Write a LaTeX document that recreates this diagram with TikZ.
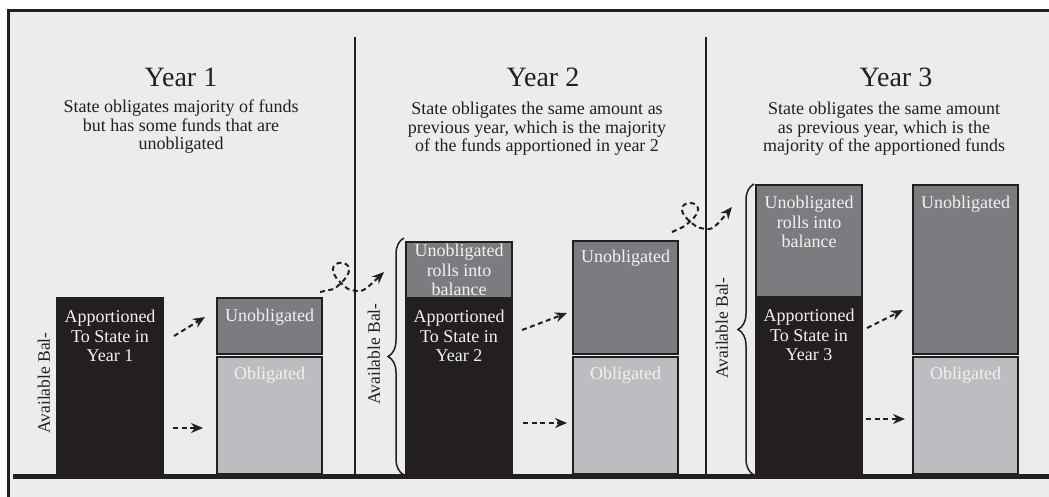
\documentclass[tikz,border=0pt]{standalone}
\usepackage{fontspec}
\setmainfont{Liberation Serif}
\usetikzlibrary{arrows.meta,positioning,decorations.pathreplacing}

\definecolor{panelbg}{HTML}{ECECEC}
\definecolor{inkblack}{HTML}{231F20}
\definecolor{darkfund}{HTML}{7B7C7F}
\definecolor{lightfund}{HTML}{BCBDC0}
\definecolor{fundwhite}{HTML}{F2F2F2}

\tikzset{
  fund/.style={rectangle,inner sep=0pt,outer sep=0pt,line width=2pt,draw=inkblack},
  appbox/.style={fund,fill=inkblack,minimum width=106pt},
  rollbox/.style={fund,fill=darkfund,minimum width=106pt},
  unobbox/.style={fund,fill=darkfund,minimum width=105pt},
  obbox/.style={fund,fill=lightfund,minimum width=105pt},
  fundtext/.style={anchor=north,text=fundwhite,align=center,inner sep=0pt,font=\fontsize{18}{19.5}\selectfont},
  yeartitle/.style={anchor=base,text=inkblack,font=\fontsize{28}{30}\selectfont},
  yearnote/.style={align=center,inner sep=0pt,text=inkblack,font=\fontsize{18}{18.5}\selectfont},
  availlabel/.style={rotate=90,inner sep=0pt,text=inkblack,font=\fontsize{17.5}{19}\selectfont},
  flow/.style={-{Stealth[length=12pt,width=10pt]},line width=2pt,dash pattern=on 5pt off 3.5pt,draw=inkblack},
  balbrace/.style={decorate,decoration={brace,amplitude=16pt},line width=1.5pt,draw=inkblack},
}

\begin{document}
\begin{tikzpicture}[x=1pt,y=-1pt]
\useasboundingbox (0,0) rectangle (1049,497);
\fill[panelbg] (8,10) rectangle (1049,497);
\draw[inkblack,line width=3pt] (8.5,497) -- (8.5,10.8) -- (1049,10.8);

% year columns
\draw[inkblack,line width=2pt] (355,37) -- (355,474);
\draw[inkblack,line width=2pt] (706,37) -- (706,474);

\node[yeartitle]	(t1)	at (181,87)	{Year 1};
\node[yeartitle]	(t2)	at (543,87)	{Year 2};
\node[yeartitle]	(t3)	at (896,87)	{Year 3};
\node[yearnote]	(n1)	[below=13pt of t1.base]	{State obligates majority of funds\\but has some funds that are\\unobligated};
\node[yearnote]	(n2)	[below=15pt of t2.base,xshift=-6pt]	{State obligates the same amount as\\previous year, which is the majority\\of the funds apportioned in year 2};
\node[yearnote]	(n3)	[below=15pt of t3.base,xshift=-12pt]	{State obligates the same amount\\as previous year, which is the\\majority of the apportioned funds};

% year 1
\node[appbox,minimum height=176pt,anchor=south west]	(app1)	at (57,474)	{};
\node[obbox,minimum height=117pt,anchor=south west]	(ob1)	at (217,474)	{};
\node[unobbox,minimum height=56pt]	(unob1)	[above=3pt of ob1]	{};
\node[fundtext]	(app1txt)	[below=12pt of app1.north]	{Apportioned\\To State in\\Year 1};
\node[fundtext]	(unob1txt)	[below=11pt of unob1.north]	{Unobligated};
\node[fundtext]	(ob1txt)	[below=10pt of ob1.north]	{Obligated};
\node[availlabel]	(av1)	at (44,383)	{Available Bal-};

% year 2
\node[appbox,minimum height=176pt,anchor=south west]	(app2)	at (406,474)	{};
\node[rollbox,minimum height=56pt]	(roll2)	[above=0pt of app2]	{};
\node[obbox,minimum height=117pt,anchor=south west]	(ob2)	at (573,474)	{};
\node[unobbox,minimum height=113pt]	(unob2)	[above=3pt of ob2]	{};
\node[fundtext]	(roll2txt)	[below=2pt of roll2.north]	{Unobligated\\rolls into\\balance};
\node[fundtext]	(app2txt)	[below=12pt of app2.north]	{Apportioned\\To State in\\Year 2};
\node[fundtext]	(unob2txt)	[below=9pt of unob2.north]	{Unobligated};
\node[fundtext]	(ob2txt)	[below=10pt of ob2.north]	{Obligated};
\draw[balbrace] ([xshift=-2pt,yshift=-1pt]app2.south west) -- ([xshift=-2pt,yshift=4pt]roll2.north west);
\node[availlabel]	(av2)	at (374,354)	{Available Bal-};

% year 3
\node[appbox,minimum height=177pt,anchor=south west]	(app3)	at (756,474)	{};
\node[rollbox,minimum height=112pt]	(roll3)	[above=0pt of app3]	{};
\node[obbox,minimum height=117pt,anchor=south west]	(ob3)	at (913,474)	{};
\node[unobbox,minimum height=169pt]	(unob3)	[above=3pt of ob3]	{};
\node[fundtext]	(roll3txt)	[below=11pt of roll3.north]	{Unobligated\\rolls into\\balance};
\node[fundtext]	(app3txt)	[below=12pt of app3.north]	{Apportioned\\To State in\\Year 3};
\node[fundtext]	(unob3txt)	[below=11pt of unob3.north]	{Unobligated};
\node[fundtext]	(ob3txt)	[below=10pt of ob3.north]	{Obligated};
\draw[balbrace] ([xshift=-2pt,yshift=-1pt]app3.south west) -- ([xshift=-2pt,yshift=1pt]roll3.north west);
\node[availlabel]	(av3)	at (722,328)	{Available Bal-};

\draw[inkblack,line width=4.5pt] (13,476.5) -- (1049,476.5);

% flows
\draw[flow] ([xshift=11pt,yshift=-38pt]app1.north east) -- ([xshift=-12pt,yshift=9pt]unob1.west);
\draw[flow] ([xshift=10pt,yshift=46pt]app1.south east) -- ([xshift=-14pt,yshift=46pt]ob1.south west);
\draw[flow] ([xshift=10pt,yshift=-32pt]app2.north east) -- ([xshift=-6pt,yshift=41pt]unob2.south west);
\draw[flow] ([xshift=11pt,yshift=51pt]app2.south east) -- ([xshift=-6pt,yshift=51pt]ob2.south west);
\draw[flow] ([xshift=5pt,yshift=-31pt]app3.north east) -- ([xshift=-10pt,yshift=44pt]unob3.south west);
\draw[flow] ([xshift=4pt,yshift=55pt]app3.south east) -- ([xshift=-8pt,yshift=55pt]ob3.south west);

% roll over loops
\draw[flow] ([xshift=-2pt,yshift=6pt]unob1.north east) -- (334,289)
  .. controls (380,254) and (302,254) .. (348,289)
  .. controls (362,293) .. ([xshift=-22pt,yshift=-30pt]roll2.north west);
\draw[flow] ([xshift=-6pt,yshift=9pt]unob2.north east) -- (683,227)
  .. controls (729,195) and (651,195) .. (697,227)
  .. controls (712,231) .. ([xshift=-24pt,yshift=-22pt]roll3.north west);
\end{tikzpicture}
\end{document}
